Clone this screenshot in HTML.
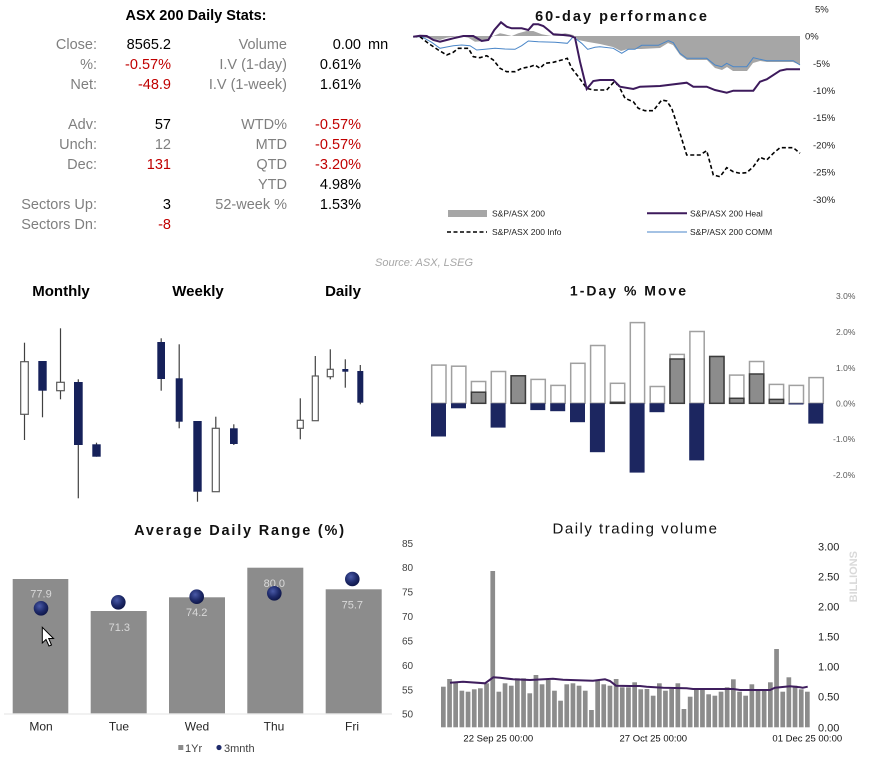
<!DOCTYPE html>
<html><head><meta charset="utf-8"><style>
html,body{margin:0;padding:0;background:#fff;}
svg{display:block;}
text{font-family:"Liberation Sans",Arial,sans-serif;}
</style></head><body>
<svg width="876" height="763" viewBox="0 0 876 763" xmlns="http://www.w3.org/2000/svg">
<defs>
<radialGradient id="dg" cx="40%" cy="35%" r="65%"><stop offset="0" stop-color="#4a5aa8"/><stop offset="0.6" stop-color="#1f2b6b"/><stop offset="1" stop-color="#0f174a"/></radialGradient>
</defs>

<!-- Stats table -->
<text x="196" y="20" text-anchor="middle" font-size="14.5" font-weight="bold" fill="#000">ASX 200 Daily Stats:</text>
<g font-size="14.5" fill="#7f7f7f" text-anchor="end">
<text x="97" y="49">Close:</text>
<text x="97" y="69">%:</text>
<text x="97" y="89">Net:</text>
<text x="97" y="129">Adv:</text>
<text x="97" y="149">Unch:</text>
<text x="97" y="169">Dec:</text>
<text x="97" y="209">Sectors Up:</text>
<text x="97" y="229">Sectors Dn:</text>
<text x="287" y="49">Volume</text>
<text x="287" y="69">I.V (1-day)</text>
<text x="287" y="89">I.V (1-week)</text>
<text x="287" y="129">WTD%</text>
<text x="287" y="149">MTD</text>
<text x="287" y="169">QTD</text>
<text x="287" y="189">YTD</text>
<text x="287" y="209">52-week %</text>
</g>
<g font-size="14.5" text-anchor="end">
<text x="171" y="49" fill="#000">8565.2</text>
<text x="171" y="69" fill="#c00000">-0.57%</text>
<text x="171" y="89" fill="#c00000">-48.9</text>
<text x="171" y="129" fill="#000">57</text>
<text x="171" y="149" fill="#7f7f7f">12</text>
<text x="171" y="169" fill="#c00000">131</text>
<text x="171" y="209" fill="#000">3</text>
<text x="171" y="229" fill="#c00000">-8</text>
<text x="361" y="49" fill="#000">0.00</text>
<text x="361" y="69" fill="#000">0.61%</text>
<text x="361" y="89" fill="#000">1.61%</text>
<text x="361" y="129" fill="#c00000">-0.57%</text>
<text x="361" y="149" fill="#c00000">-0.57%</text>
<text x="361" y="169" fill="#c00000">-3.20%</text>
<text x="361" y="189" fill="#000">4.98%</text>
<text x="361" y="209" fill="#000">1.53%</text>
</g>
<text x="368" y="49" font-size="14.5" fill="#000">mn</text>

<!-- 60-day performance -->
<text x="622" y="21" text-anchor="middle" font-size="14.5" font-weight="bold" letter-spacing="2" fill="#111">60-day performance</text>
<polygon fill="#a6a6a6" points="413,36 433.3,39 440,40 446.7,37.7 460,36 468.3,37.7 475,41.7 485,41 493.3,36 500,33.3 505,34.3 511.7,36 518.3,33.3 526.7,31 533.3,31 541.7,34.3 551.7,36 565,33.3 573.3,35 578.3,40 588.3,42 600,44 613,47 621,51 628,49 641,49 660,48 668,43 673,45 680,55 687,60 707,60 715,68 722,70 727,67 733,71 747,71 753,63 760,61 767,62 793,62 800,65 800,36"/>
<polyline fill="none" stroke="#4a86c8" stroke-width="1" points="413.3,36.7 421.7,36.7 431.7,42.3 440,48.3 446.7,47 453.3,45.7 461.7,45 470,45.7 476.7,50 485,49.3 495,48.3 505,49 515,49.3 521.7,45.7 528.3,41 538.3,41.7 555,42.3 567.3,43.3 573.3,36.7 581.7,43.3 587.7,49.3 595,47.3 600,46.7 613.3,48.3 621.7,53.3 628.3,49.3 635,49.3 641.7,45.3 658.3,45.3 668.3,40.7 673.3,42.7 680,53.3 686.7,58.3 706.7,58.3 715,65 721.7,66.7 726.7,63.3 733.3,66.7 746.7,66.7 753.3,57.7 760,59.3 766.7,60.7 793.3,60.7 800,65"/>
<polyline fill="none" stroke="#000" stroke-width="1.6" stroke-dasharray="4 2.5" points="413.3,36.7 420,36.7 428.3,43.3 438.3,50 446.7,55 453.3,52.3 458.3,48.3 468.3,48.3 473.3,56.7 480,57.7 486.7,55.7 493.3,60 500,68.3 506.7,71.7 515,71.7 521.7,68.3 530,66.7 535,65 540,68.3 545,63.3 553.3,62.3 561.7,60 567.3,58.3 571.7,68.3 578.3,76.7 586.7,88.3 593.3,90 606.7,90 613.3,82.7 618.3,85 625,98.3 633.3,101.7 638.3,108.3 645,110.7 653.3,110.7 661.7,100 666.7,101 671.7,108.3 680,133.3 686.7,155 700,155 706.7,150.7 713.3,175 720,176.7 726.7,167.7 733.3,171.7 740,173.3 746.7,172.7 753.3,166.7 760,157.3 766.7,160 773.3,153.3 780,147.7 793.3,147.7 800,153.3"/>
<polyline fill="none" stroke="#3d1a5c" stroke-width="2" points="413.3,36.7 420,35.7 426.7,36 433.3,40 440,41.7 446.7,40 453.3,38.3 463.3,36 473.3,36 481.7,41 488.3,40 494.3,30 501,22.3 506.7,26.7 511.7,28.3 521.7,28.3 528.3,30 533.3,24.3 538.3,24.3 543.3,26 548.3,30 553.3,34.3 563.3,35 570,35.7 575,37.7 580,61.7 586.7,89 593.3,81 600,80 613.3,80 620,86.7 633.3,89 640,86.7 660,86 686.7,82.7 693.3,86.7 706.7,86.7 715,90 726.7,92.7 733.3,90.7 753.3,90.7 760,81.7 766.7,79.3 780,70.7 786.7,69.3 800,69.3"/>
<g font-size="9.5" fill="#222">
<text x="815" y="12.5">5%</text>
<text x="805" y="39.5">0%</text>
<text x="813" y="67">-5%</text>
<text x="813" y="94">-10%</text>
<text x="813" y="121">-15%</text>
<text x="813" y="148.5">-20%</text>
<text x="813" y="175.5">-25%</text>
<text x="813" y="203">-30%</text>
</g>
<rect x="448" y="210" width="39" height="7" fill="#a6a6a6"/>
<line x1="647" y1="213.3" x2="687" y2="213.3" stroke="#3d1a5c" stroke-width="2"/>
<line x1="447" y1="232" x2="487" y2="232" stroke="#000" stroke-width="1.5" stroke-dasharray="4 2.5"/>
<line x1="647" y1="232" x2="687" y2="232" stroke="#4a86c8" stroke-width="1"/>
<g font-size="8.5" fill="#222">
<text x="492" y="216.3">S&amp;P/ASX 200</text>
<text x="690" y="216.3">S&amp;P/ASX 200 Heal</text>
<text x="492" y="235">S&amp;P/ASX 200 Info</text>
<text x="690" y="235">S&amp;P/ASX 200 COMM</text>
</g>
<text x="375" y="266" font-size="11" font-style="italic" fill="#a6a6a6">Source: ASX, LSEG</text>

<!-- Candles -->
<g font-size="15" font-weight="bold" fill="#000" text-anchor="middle">
<text x="61" y="296">Monthly</text>
<text x="198" y="296">Weekly</text>
<text x="343" y="296">Daily</text>
</g>
<g stroke="#404040" stroke-width="1.2">
<line x1="24.5" y1="342.7" x2="24.5" y2="440"/>
<line x1="42.5" y1="361" x2="42.5" y2="417.3"/>
<line x1="60.5" y1="328.3" x2="60.5" y2="399.3"/>
<line x1="78.3" y1="379.3" x2="78.3" y2="498.3"/>
<line x1="96.5" y1="442.7" x2="96.5" y2="456.7"/>
<line x1="161.2" y1="338.3" x2="161.2" y2="390.7"/>
<line x1="179.2" y1="344.3" x2="179.2" y2="428.3"/>
<line x1="197.5" y1="421" x2="197.5" y2="501.7"/>
<line x1="215.8" y1="416.7" x2="215.8" y2="491.7"/>
<line x1="233.8" y1="424.3" x2="233.8" y2="445"/>
<line x1="300.3" y1="398.3" x2="300.3" y2="439.3"/>
<line x1="315.3" y1="356" x2="315.3" y2="420.7"/>
<line x1="330.3" y1="349.3" x2="330.3" y2="379.3"/>
<line x1="345.3" y1="359.3" x2="345.3" y2="387.7"/>
<line x1="360.3" y1="365" x2="360.3" y2="404.3"/>
</g>
<g fill="#fff" stroke="#595959" stroke-width="1.2">
<rect x="20.7" y="361.7" width="7.6" height="52.6"/>
<rect x="56.7" y="382.3" width="7.6" height="8.4"/>
<rect x="212.3" y="428.3" width="7" height="63.4"/>
<rect x="297.3" y="420.3" width="6" height="8"/>
<rect x="312.3" y="376" width="6" height="44.7"/>
<rect x="327.3" y="369.3" width="6" height="7.4"/>
</g>
<g fill="#16215a">
<rect x="38.3" y="361" width="8.4" height="29.7"/>
<rect x="74" y="382" width="8.7" height="63"/>
<rect x="92.3" y="444.3" width="8.4" height="12.4"/>
<rect x="157.3" y="342" width="7.7" height="37"/>
<rect x="175.7" y="378.3" width="7" height="43.4"/>
<rect x="193.3" y="421" width="8.4" height="70.7"/>
<rect x="230" y="428.3" width="7.7" height="15.7"/>
<rect x="342.3" y="369" width="6" height="2.7"/>
<rect x="357.3" y="371" width="6" height="31.7"/>
</g>

<!-- 1-Day % Move -->
<text x="629" y="295.7" text-anchor="middle" font-size="14" font-weight="bold" letter-spacing="2" fill="#111">1-Day % Move</text>
<g font-size="8.5" fill="#595959">
<text x="836" y="299">3.0%</text>
<text x="836" y="335">2.0%</text>
<text x="836" y="371">1.0%</text>
<text x="836" y="406.5">0.0%</text>
<text x="833" y="442">-1.0%</text>
<text x="833" y="478">-2.0%</text>
</g>
<g fill="#fff" stroke="#a0a0a0" stroke-width="1.5">
<rect x="431.7" y="365.1" width="14.3" height="38.2"/>
<rect x="451.6" y="366.2" width="14.3" height="37.1"/>
<rect x="471.4" y="381.5" width="14.3" height="21.8"/>
<rect x="491.3" y="371.5" width="14.3" height="31.8"/>
<rect x="511.1" y="375.8" width="14.3" height="27.5"/>
<rect x="531.0" y="379.4" width="14.3" height="23.9"/>
<rect x="550.9" y="385.4" width="14.3" height="17.9"/>
<rect x="570.7" y="363.3" width="14.3" height="40"/>
<rect x="590.6" y="345.5" width="14.3" height="57.8"/>
<rect x="610.4" y="383.3" width="14.3" height="20"/>
<rect x="630.3" y="322.6" width="14.3" height="80.7"/>
<rect x="650.2" y="386.5" width="14.3" height="16.8"/>
<rect x="670.0" y="354.4" width="14.3" height="48.9"/>
<rect x="689.9" y="331.5" width="14.3" height="71.8"/>
<rect x="709.7" y="356.5" width="14.3" height="46.8"/>
<rect x="729.6" y="375.1" width="14.3" height="28.2"/>
<rect x="749.5" y="361.5" width="14.3" height="41.8"/>
<rect x="769.3" y="384.4" width="14.3" height="18.9"/>
<rect x="789.2" y="385.4" width="14.3" height="17.9"/>
<rect x="809.0" y="377.6" width="14.3" height="25.7"/>
</g>
<g fill="#8c8c8c" stroke="#3c3c3c" stroke-width="1.5">
<rect x="471.4" y="392.2" width="14.3" height="11.1"/>
<rect x="511.1" y="375.8" width="14.3" height="27.5"/>
<rect x="610.4" y="402.3" width="14.3" height="1"/>
<rect x="670.0" y="359" width="14.3" height="44.3"/>
<rect x="709.7" y="356.5" width="14.3" height="46.8"/>
<rect x="729.6" y="398.3" width="14.3" height="5"/>
<rect x="749.5" y="374" width="14.3" height="29.3"/>
<rect x="769.3" y="399.4" width="14.3" height="3.9"/>
</g>
<g fill="#1c2660">
<rect x="431" y="403.3" width="15" height="33.2"/>
<rect x="451" y="403.3" width="15" height="5"/>
<rect x="490.6" y="403.3" width="15" height="24.3"/>
<rect x="530.3" y="403.3" width="15" height="6.8"/>
<rect x="550.2" y="403.3" width="15" height="7.9"/>
<rect x="570" y="403.3" width="15" height="18.9"/>
<rect x="589.9" y="403.3" width="15" height="48.9"/>
<rect x="629.6" y="403.3" width="15" height="69.3"/>
<rect x="649.5" y="403.3" width="15" height="8.9"/>
<rect x="689.2" y="403.3" width="15" height="57.1"/>
<rect x="788.5" y="403.3" width="15" height="1.2"/>
<rect x="808.3" y="403.3" width="15" height="20.3"/>
</g>

<!-- Average Daily Range -->
<text x="240" y="535" text-anchor="middle" font-size="14.5" font-weight="bold" letter-spacing="1.8" fill="#111">Average Daily Range (%)</text>
<g fill="#8c8c8c">
<rect x="12.7" y="579" width="55.6" height="134.3"/>
<rect x="90.7" y="611" width="56" height="102.3"/>
<rect x="169" y="597.3" width="56" height="116"/>
<rect x="247.3" y="567.7" width="56" height="145.6"/>
<rect x="325.7" y="589.3" width="56" height="124"/>
</g>
<line x1="4" y1="714" x2="392" y2="714" stroke="#e3e3e3" stroke-width="1"/>
<g font-size="11" fill="#d9d9d9" text-anchor="middle">
<text x="41" y="597.5">77.9</text>
<text x="119.3" y="631">71.3</text>
<text x="196.7" y="616">74.2</text>
<text x="274.3" y="587">80.0</text>
<text x="352.3" y="608.5">75.7</text>
</g>
<g fill="url(#dg)">
<circle cx="41" cy="608.3" r="7.3"/>
<circle cx="118.3" cy="602.3" r="7.3"/>
<circle cx="196.7" cy="596.7" r="7.3"/>
<circle cx="274.3" cy="593.3" r="7.3"/>
<circle cx="352.3" cy="579" r="7.3"/>
</g>
<g font-size="12" fill="#262626" text-anchor="middle">
<text x="41" y="730.7">Mon</text>
<text x="119" y="730.7">Tue</text>
<text x="197" y="730.7">Wed</text>
<text x="274" y="730.7">Thu</text>
<text x="352" y="730.7">Fri</text>
</g>
<rect x="178.3" y="745" width="5" height="5" fill="#8c8c8c"/>
<text x="185" y="752" font-size="11" fill="#404040">1Yr</text>
<circle cx="219" cy="747.5" r="2.6" fill="#1f2b6b"/>
<text x="224" y="752" font-size="11" fill="#404040">3mnth</text>
<polygon points="42.3,627.3 42.3,643 46,639.5 49,646 51.5,645 48.7,638.5 53.5,638.5" fill="#fff" stroke="#000" stroke-width="1"/>
<g font-size="10" fill="#404040">
<text x="402" y="547">85</text>
<text x="402" y="571">80</text>
<text x="402" y="595.5">75</text>
<text x="402" y="620">70</text>
<text x="402" y="644.5">65</text>
<text x="402" y="669">60</text>
<text x="402" y="693.5">55</text>
<text x="402" y="717.5">50</text>
</g>

<!-- Daily trading volume -->
<text x="635.5" y="533.3" text-anchor="middle" font-size="15" letter-spacing="1.5" fill="#111">Daily trading volume</text>
<g font-size="11" fill="#222">
<text x="818" y="550.7">3.00</text>
<text x="818" y="580.7">2.50</text>
<text x="818" y="610.7">2.00</text>
<text x="818" y="640.7">1.50</text>
<text x="818" y="670.7">1.00</text>
<text x="818" y="700.7">0.50</text>
<text x="818" y="731.3">0.00</text>
</g>
<text x="0" y="0" transform="translate(857,576.7) rotate(-90)" text-anchor="middle" font-size="11" font-weight="bold" fill="#d9d9d9">BILLIONS</text>
<g font-size="9.5" fill="#111" text-anchor="middle">
<text x="498.3" y="741.5">22 Sep 25 00:00</text>
<text x="653.3" y="741.5">27 Oct 25 00:00</text>
<text x="807.3" y="741.5">01 Dec 25 00:00</text>
</g>
<g fill="#8c8c8c">
<rect x="441" y="686.7" width="4.7" height="40.6"/>
<rect x="447.2" y="679" width="4.7" height="48.3"/>
<rect x="453.3" y="681.7" width="4.7" height="45.6"/>
<rect x="459.5" y="690.7" width="4.7" height="36.6"/>
<rect x="465.7" y="691.7" width="4.7" height="35.6"/>
<rect x="471.9" y="689.3" width="4.7" height="38"/>
<rect x="478.0" y="688.3" width="4.7" height="39"/>
<rect x="484.2" y="683.3" width="4.7" height="44"/>
<rect x="490.4" y="571" width="4.7" height="156.3"/>
<rect x="496.5" y="691.7" width="4.7" height="35.6"/>
<rect x="502.7" y="683.3" width="4.7" height="44"/>
<rect x="508.9" y="685.7" width="4.7" height="41.6"/>
<rect x="515.0" y="678.3" width="4.7" height="49"/>
<rect x="521.2" y="678.3" width="4.7" height="49"/>
<rect x="527.4" y="693.3" width="4.7" height="34"/>
<rect x="533.6" y="675" width="4.7" height="52.3"/>
<rect x="539.7" y="684.3" width="4.7" height="43"/>
<rect x="545.9" y="680" width="4.7" height="47.3"/>
<rect x="552.1" y="690.7" width="4.7" height="36.6"/>
<rect x="558.2" y="700.7" width="4.7" height="26.6"/>
<rect x="564.4" y="684.3" width="4.7" height="43"/>
<rect x="570.6" y="683.3" width="4.7" height="44"/>
<rect x="576.7" y="685.7" width="4.7" height="41.6"/>
<rect x="582.9" y="690.7" width="4.7" height="36.6"/>
<rect x="589.1" y="710" width="4.7" height="17.3"/>
<rect x="595.3" y="681" width="4.7" height="46.3"/>
<rect x="601.4" y="684.3" width="4.7" height="43"/>
<rect x="607.6" y="685.7" width="4.7" height="41.6"/>
<rect x="613.8" y="679" width="4.7" height="48.3"/>
<rect x="619.9" y="687.3" width="4.7" height="40"/>
<rect x="626.1" y="687.3" width="4.7" height="40"/>
<rect x="632.3" y="682.3" width="4.7" height="45"/>
<rect x="638.4" y="689.3" width="4.7" height="38"/>
<rect x="644.6" y="689" width="4.7" height="38.3"/>
<rect x="650.8" y="695.7" width="4.7" height="31.6"/>
<rect x="657.0" y="683.3" width="4.7" height="44"/>
<rect x="663.1" y="690.7" width="4.7" height="36.6"/>
<rect x="669.3" y="689" width="4.7" height="38.3"/>
<rect x="675.5" y="683.3" width="4.7" height="44"/>
<rect x="681.6" y="709" width="4.7" height="18.3"/>
<rect x="687.8" y="696.7" width="4.7" height="30.6"/>
<rect x="694.0" y="689" width="4.7" height="38.3"/>
<rect x="700.1" y="690" width="4.7" height="37.3"/>
<rect x="706.3" y="694.3" width="4.7" height="33"/>
<rect x="712.5" y="695.7" width="4.7" height="31.6"/>
<rect x="718.7" y="691.7" width="4.7" height="35.6"/>
<rect x="724.8" y="687.3" width="4.7" height="40"/>
<rect x="731.0" y="679.3" width="4.7" height="48"/>
<rect x="737.2" y="691.7" width="4.7" height="35.6"/>
<rect x="743.3" y="695.7" width="4.7" height="31.6"/>
<rect x="749.5" y="684.3" width="4.7" height="43"/>
<rect x="755.7" y="690" width="4.7" height="37.3"/>
<rect x="761.8" y="690" width="4.7" height="37.3"/>
<rect x="768.0" y="682.3" width="4.7" height="45"/>
<rect x="774.2" y="649" width="4.7" height="78.3"/>
<rect x="780.4" y="691.7" width="4.7" height="35.6"/>
<rect x="786.5" y="677.3" width="4.7" height="50"/>
<rect x="792.7" y="685.7" width="4.7" height="41.6"/>
<rect x="798.9" y="689.3" width="4.7" height="38"/>
<rect x="805.0" y="691.7" width="4.7" height="35.6"/>
</g>
<polyline fill="none" stroke="#3f1e5e" stroke-width="2" points="450,682.7 463,681.7 485,683.3 493.3,677.3 500,677.7 513,679.3 530,680 553,678.7 563,679.7 593,680.7 605,679.3 610,681 616,685.7 630,686 640,686 646.7,686.7 663.3,687.7 686.7,688.3 693,689 733.3,689 740,690 770,690 775,687.7 790,686.3 800,687.3 802.7,687.7 807.7,686.7"/>
</svg>
</body></html>
